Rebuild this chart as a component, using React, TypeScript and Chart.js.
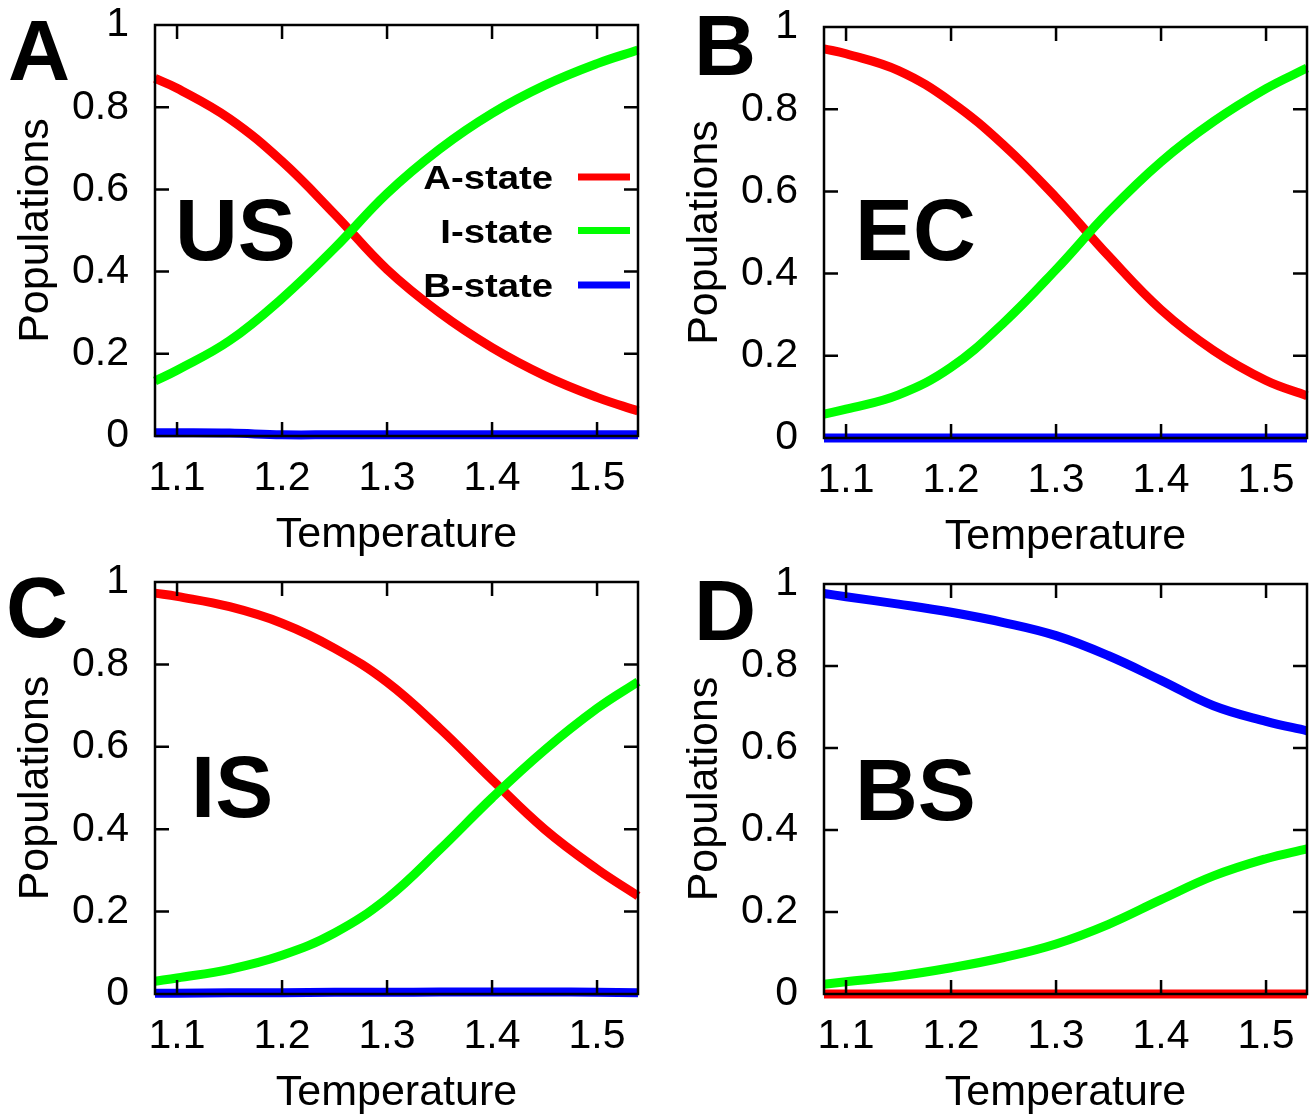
import React, { useEffect, useRef } from 'react';
import { Chart, registerables } from 'chart.js';

Chart.register(...registerables);

// ---------- data ----------
const temperature = [1.079, 1.1, 1.15, 1.2, 1.25, 1.3, 1.35, 1.4, 1.45, 1.5, 1.539];
const xTickValues = [1.1, 1.2, 1.3, 1.4, 1.5];
const yTickValues = [0, 0.2, 0.4, 0.6, 0.8, 1];
const seriesNames = ['A-state', 'I-state', 'B-state'];
const seriesColors = ['#ff0000', '#00ff00', '#0000ff'];
const panelLetters = ['A', 'B', 'C', 'D'];
const panelNames = ['US', 'EC', 'IS', 'BS'];
const xTitle = 'Temperature';
const yTitle = 'Populations';

// US
const usAState = [0.870, 0.846, 0.772, 0.668, 0.540, 0.405, 0.300, 0.215, 0.147, 0.094, 0.061];
const usIState = [0.134, 0.160, 0.232, 0.335, 0.457, 0.590, 0.698, 0.785, 0.853, 0.906, 0.939];
const usBState = [0.008, 0.008, 0.007, 0.003, 0.003, 0.003, 0.003, 0.003, 0.003, 0.003, 0.003];
// EC
const ecAState = [0.947, 0.935, 0.894, 0.818, 0.713, 0.585, 0.443, 0.312, 0.213, 0.140, 0.103];
const ecIState = [0.058, 0.070, 0.105, 0.172, 0.280, 0.410, 0.550, 0.672, 0.770, 0.850, 0.900];
const ecBState = [0.000, 0.000, 0.000, 0.000, 0.000, 0.000, 0.000, 0.000, 0.000, 0.000, 0.000];
// IS
const isAState = [0.973, 0.965, 0.940, 0.900, 0.839, 0.757, 0.645, 0.520, 0.400, 0.303, 0.238];
const isIState = [0.031, 0.039, 0.060, 0.094, 0.148, 0.232, 0.350, 0.476, 0.592, 0.693, 0.758];
const isBState = [0.002, 0.002, 0.003, 0.003, 0.004, 0.004, 0.005, 0.005, 0.005, 0.004, 0.003];
// BS
const bsAState = [0.000, 0.000, 0.000, 0.000, 0.000, 0.000, 0.000, 0.000, 0.000, 0.000, 0.000];
const bsIState = [0.024, 0.030, 0.044, 0.064, 0.089, 0.122, 0.170, 0.230, 0.288, 0.330, 0.354];
const bsBState = [0.977, 0.969, 0.951, 0.931, 0.906, 0.874, 0.825, 0.765, 0.703, 0.665, 0.642];

const panelSeries = [
  [usAState, usIState, usBState],
  [ecAState, ecIState, ecBState],
  [isAState, isIState, isBState],
  [bsAState, bsIState, bsBState],
];

// ---------- layout / style ----------
const FONT = '"Liberation Sans", Arial, Helvetica, sans-serif';
const panelBoxes = [
  { left: 0, top: 0, width: 669, height: 557 },
  { left: 669, top: 2, width: 644, height: 557 },
  { left: 0, top: 557, width: 669, height: 558 },
  { left: 669, top: 559, width: 644, height: 556 },
];
const letterPos = [
  { x: 8, y: 80 },
  { x: 25, y: 73 },
  { x: 6, y: 80 },
  { x: 25, y: 81 },
];
const namePos = [
  { x: 175, y: 260 },
  { x: 186, y: 258 },
  { x: 191, y: 260 },
  { x: 186, y: 261 },
];

const panelDecor = {
  id: 'panelDecor',
  afterDatasetsDraw(chart: any, _args: any, opts: any) {
    const { ctx, chartArea: ca } = chart;
    const xs = chart.scales.x;
    const ys = chart.scales.y;
    const L = 14;
    ctx.save();
    ctx.strokeStyle = '#000';
    ctx.lineWidth = 2.5;
    ctx.beginPath();
    xs.ticks.forEach((t: any) => {
      const px = xs.getPixelForValue(t.value);
      ctx.moveTo(px, ca.bottom);
      ctx.lineTo(px, ca.bottom - L);
      ctx.moveTo(px, ca.top);
      ctx.lineTo(px, ca.top + L);
    });
    ys.ticks.forEach((t: any) => {
      if (t.value <= 0.001 || t.value >= 0.999) return;
      const py = ys.getPixelForValue(t.value);
      ctx.moveTo(ca.left, py);
      ctx.lineTo(ca.left + L, py);
      ctx.moveTo(ca.right, py);
      ctx.lineTo(ca.right - L, py);
    });
    ctx.stroke();
    ctx.strokeRect(ca.left, ca.top, ca.right - ca.left, ca.bottom - ca.top);

    ctx.fillStyle = '#000';
    ctx.textAlign = 'left';
    ctx.textBaseline = 'alphabetic';
    ctx.font = `bold 86px ${FONT}`;
    ctx.fillText(opts.letter, opts.letterX, opts.letterY);
    ctx.font = `bold 87px ${FONT}`;
    ctx.fillText(opts.name, opts.nameX, opts.nameY);

    if (opts.legend) {
      const rowsY = [177, 230.5, 285];
      chart.data.datasets.forEach((ds: any, i: number) => {
        const y = rowsY[i];
        ctx.save();
        ctx.fillStyle = '#000';
        ctx.font = `bold 33px ${FONT}`;
        ctx.textAlign = 'right';
        ctx.translate(553, y + 12);
        ctx.scale(1.16, 1);
        ctx.fillText(ds.label, 0, 0);
        ctx.restore();
        ctx.strokeStyle = ds.borderColor;
        ctx.lineWidth = 7;
        ctx.beginPath();
        ctx.moveTo(578, y);
        ctx.lineTo(630, y);
        ctx.stroke();
      });
    }
    ctx.restore();
  },
};

function Panel({ index }: { index: number }) {
  const ref = useRef<HTMLCanvasElement | null>(null);
  const box = panelBoxes[index];
  useEffect(() => {
    if (!ref.current) return;
    const series = panelSeries[index];
    const chart = new Chart(ref.current, {
      type: 'line',
      data: {
        datasets: seriesNames.map((name, i) => ({
          label: name,
          data: temperature.map((t, k) => ({ x: t, y: series[i][k] })),
          borderColor: seriesColors[i],
          backgroundColor: seriesColors[i],
          borderWidth: 9,
          pointRadius: 0,
          pointHoverRadius: 0,
          tension: 0.4,
          fill: false,
          clip: false as any,
          order: 3 - i,
        })),
      },
      plugins: [panelDecor],
      options: {
        responsive: false,
        maintainAspectRatio: false,
        animation: false,
        devicePixelRatio: 1,
        events: [],
        layout: { padding: { left: 0, top: 25, right: box.width - 638, bottom: 0 } },
        plugins: {
          legend: { display: false },
          tooltip: { enabled: false },
          title: { display: false },
          panelDecor: {
            letter: panelLetters[index],
            name: panelNames[index],
            letterX: letterPos[index].x,
            letterY: letterPos[index].y,
            nameX: namePos[index].x,
            nameY: namePos[index].y,
            legend: index === 0,
          },
        } as any,
        scales: {
          x: {
            type: 'linear',
            min: temperature[0],
            max: temperature[temperature.length - 1],
            afterBuildTicks: (scale: any) => {
              scale.ticks = xTickValues.map((v) => ({ value: v }));
            },
            afterFit: (scale: any) => {
              scale.height = 121;
              scale.paddingLeft = 0;
              scale.paddingRight = 0;
            },
            grid: { display: false, drawTicks: false },
            border: { display: false },
            ticks: {
              color: '#000',
              font: { family: FONT, size: 41 },
              padding: 18,
              maxRotation: 0,
              autoSkip: false,
              callback: (v: any) => Number(v).toFixed(1),
            },
            title: {
              display: true,
              text: xTitle,
              color: '#000',
              font: { family: FONT, size: 43, lineHeight: 1 },
              padding: { top: 0, bottom: 0 },
            },
          },
          y: {
            type: 'linear',
            min: 0,
            max: 1,
            afterBuildTicks: (scale: any) => {
              scale.ticks = yTickValues.map((v) => ({ value: v }));
            },
            afterFit: (scale: any) => {
              scale.width = 155;
              scale.paddingTop = 0;
              scale.paddingBottom = 0;
            },
            grid: { display: false, drawTicks: false },
            border: { display: false },
            ticks: {
              color: '#000',
              font: { family: FONT, size: 41 },
              padding: 26,
              autoSkip: false,
              callback: (v: any) => {
                const n = Number(v);
                if (Math.abs(n) < 1e-9) return '0';
                if (Math.abs(n - 1) < 1e-9) return '1';
                return n.toFixed(1);
              },
            },
            title: {
              display: true,
              text: yTitle,
              color: '#000',
              font: { family: FONT, size: 43, lineHeight: 1 },
              padding: { top: 15, bottom: 0 },
            },
          },
        },
      } as any,
    });
    return () => chart.destroy();
  }, [index]);
  return (
    <canvas
      ref={ref}
      width={box.width}
      height={box.height}
      style={{
        position: 'absolute',
        left: box.left,
        top: box.top,
        width: box.width,
        height: box.height,
      }}
    />
  );
}

export default function App() {
  return (
    <div
      style={{
        position: 'absolute',
        left: 0,
        top: 0,
        width: 1313,
        height: 1115,
        overflow: 'hidden',
        background: '#fff',
      }}
    >
      {[0, 1, 2, 3].map((i) => (
        <Panel key={i} index={i} />
      ))}
    </div>
  );
}
